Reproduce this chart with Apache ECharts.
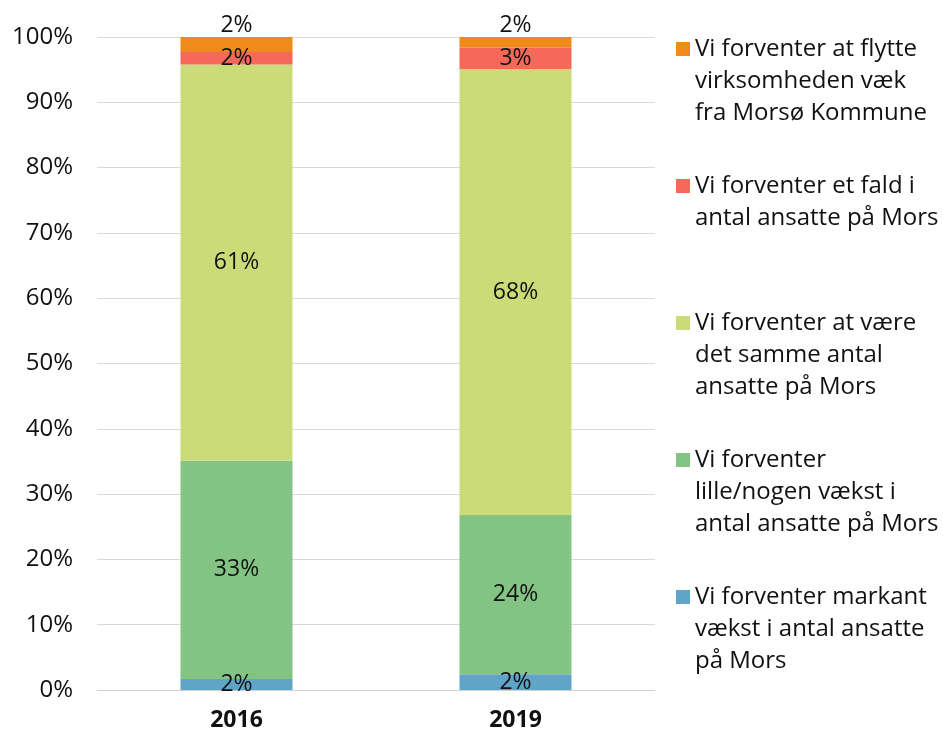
<!DOCTYPE html>
<html>
<head>
<meta charset="utf-8">
<script src="https://cdn.jsdelivr.net/npm/echarts@6/dist/echarts.min.js"></script>
<style>
    html, body { margin: 0; padding: 0; background: #fff; }
    #chart { width: 943px; height: 737px; }
</style>
</head>
<body>
<div id="chart"></div>
<script>
// kategorier (år) og andele i procent, nedefra og op i stakken
const years = ['2016', '2019'];
const markantVaekst = [1.7, 2.4];
const lilleVaekst = [33.4, 24.4];
const sammeAntal = [60.7, 68.3];
const faldAnsatte = [1.9, 3.3];
const flytteVaek = [2.3, 1.6];
const yTicks = [0, 10, 20, 30, 40, 50, 60, 70, 80, 90, 100];

const names = [
    'Vi forventer markant\nvækst i antal ansatte\npå Mors',
    'Vi forventer\nlille/nogen vækst i\nantal ansatte på Mors',
    'Vi forventer at være\ndet samme antal\nansatte på Mors',
    'Vi forventer et fald i\nantal ansatte på Mors',
    'Vi forventer at flytte\nvirksomheden væk\nfra Morsø Kommune'
];
const values = [markantVaekst, lilleVaekst, sammeAntal, faldAnsatte, flytteVaek];
const colors = ['#60A5C8', '#83C383', '#CBDB78', '#F4695A', '#F08A1A'];

const font = "'Open Sans', 'Noto Sans', sans-serif";
const lineH = 32;

const myChart = echarts.init(document.getElementById('chart'));

const seriesData = names.map((name, i) => {
    return {
        name: name,
        type: 'bar',
        stack: 'total',
        barWidth: 112,
        itemStyle: { color: colors[i] },
        label: {
            show: true,
            position: i === names.length - 1 ? 'top' : 'inside',
            distance: 0,
            color: '#111',
            fontFamily: font,
            fontSize: 23,
            formatter: p => Math.round(p.value) + '%'
        },
        data: values[i]
    };
});

// legend-tekst centreres om ikonet, så der fyldes tomme linjer på
// saa ikonet står ud for første linje
const legendFormatter = name => {
    const lines = name.split('\n');
    const out = [' ', ' '].concat(lines);
    while (out.length < 5) out.push(' ');
    return out.join('\n');
};

const option = {
    animation: false,
    grid: { left: 97, right: 288, top: 37, bottom: 47 },
    legend: {
        orient: 'vertical',
        left: 676,
        top: 49 - 2.5 * lineH,
        padding: 0,
        itemWidth: 14,
        itemHeight: 14,
        itemGap: 137 - 5 * lineH,
        icon: 'rect',
        selectedMode: false,
        formatter: legendFormatter,
        textStyle: {
            color: '#111',
            fontFamily: font,
            fontSize: 24,
            lineHeight: lineH
        },
        data: names.slice().reverse()
    },
    xAxis: {
        type: 'category',
        data: years,
        axisLine: { show: true, lineStyle: { color: '#d0d0d0', width: 1 } },
        axisTick: { show: false },
        axisLabel: {
            color: '#111',
            fontFamily: font,
            fontSize: 23,
            fontWeight: 'bold',
            margin: 19
        }
    },
    yAxis: {
        type: 'value',
        min: yTicks[0],
        max: yTicks[yTicks.length - 1],
        interval: 10,
        axisLine: { show: false },
        axisTick: { show: false },
        axisLabel: {
            color: '#111',
            fontFamily: font,
            fontSize: 24,
            margin: 24,
            formatter: '{value}%'
        },
        splitLine: { lineStyle: { color: '#d9d9d9', width: 1 } }
    },
    series: seriesData
};

myChart.setOption(option);
</script>
</body>
</html>
